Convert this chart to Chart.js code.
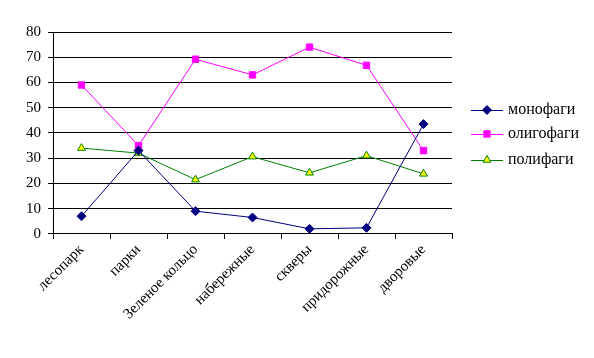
<!DOCTYPE html>
<html><head><meta charset="utf-8">
<script src="https://cdn.jsdelivr.net/npm/chart.js@4/dist/chart.umd.min.js"></script>
<style>html,body{margin:0;padding:0;background:#fff}#wrap{width:594px;height:358px}</style>
</head><body><div id="wrap"><canvas id="c" width="594" height="358"></canvas></div>
<script>
const categories = ["лесопарк","парки","Зеленое кольцо","набережные","скверы","придорожные","дворовые"];
const monofagi = [7, 33, 9, 6.5, 2, 2.4, 43.5];
const oligofagi = [59, 35, 69.2, 63, 74, 66.8, 33];
const polifagi = [34, 32, 21.5, 30.6, 24.2, 31, 23.8];
const yTicks = [0,10,20,30,40,50,60,70,80];
const seriesNames = ["монофаги","олигофаги","полифаги"];

const FONT = "'Liberation Serif', 'Times New Roman', serif";

const legendPlugin = {
  id: 'customLegend',
  afterDraw(chart) {
    const ctx = chart.ctx;
    const x0 = 471, x1 = 503, tx = 508;
    const ys = [110, 134, 160];
    chart.data.datasets.forEach((ds, i) => {
      const y = ys[i];
      ctx.save();
      ctx.strokeStyle = ds.borderColor;
      ctx.lineWidth = 1;
      ctx.beginPath(); ctx.moveTo(x0, y + 0.5); ctx.lineTo(x1, y + 0.5); ctx.stroke();
      ctx.fillStyle = ds.pointBackgroundColor;
      ctx.strokeStyle = ds.pointBorderColor;
      ctx.lineWidth = ds.pointBorderWidth;
      Chart.helpers.drawPoint(ctx, {pointStyle: ds.pointStyle, radius: ds.pointRadius, rotation: 0, borderWidth: ds.pointBorderWidth}, (x0 + x1) / 2, y);
      ctx.fillStyle = '#000';
      ctx.font = "16px " + FONT;
      ctx.textBaseline = 'middle';
      ctx.textAlign = 'left';
      ctx.fillText(ds.label, tx, y);
      ctx.restore();
    });
  }
};

new Chart(document.getElementById('c'), {
  type: 'line',
  data: {
    labels: categories,
    datasets: [
      {label: seriesNames[0], data: monofagi, borderColor: '#000080', backgroundColor: '#000080',
       pointStyle: 'rectRot', pointRadius: 4.5, pointBackgroundColor: '#000080', pointBorderColor: '#000080', pointBorderWidth: 1, borderWidth: 1, tension: 0},
      {label: seriesNames[1], data: oligofagi, borderColor: '#FF00FF', backgroundColor: '#FF00FF',
       pointStyle: 'rect', pointRadius: 4.5, pointBackgroundColor: '#FF00FF', pointBorderColor: '#FF00FF', pointBorderWidth: 1, borderWidth: 1, tension: 0},
      {label: seriesNames[2], data: polifagi, borderColor: '#008000', backgroundColor: '#FFFF00',
       pointStyle: 'triangle', pointRadius: 4.5, pointBackgroundColor: '#FFFF00', pointBorderColor: '#008000', pointBorderWidth: 1, borderWidth: 1, tension: 0}
    ]
  },
  options: {
    responsive: false,
    animation: false,
    devicePixelRatio: 1,
    layout: {padding: {left: 19, right: 142, top: 32, bottom: 33}},
    plugins: {legend: {display: false}, tooltip: {enabled: false}},
    scales: {
      x: {
        offset: true,
        grid: {display: true, offset: true, drawOnChartArea: false, drawTicks: true, tickLength: 5, color: '#000', lineWidth: 1},
        border: {display: true, color: '#000', width: 1},
        ticks: {color: '#000', font: {family: FONT, size: 15}, minRotation: 45, maxRotation: 45, autoSkip: false, padding: 2}
      },
      y: {
        min: 0, max: 80,
        afterBuildTicks(axis) { axis.ticks = yTicks.map(v => ({value: v})); },
        grid: {color: '#000', lineWidth: 1, drawTicks: true, tickLength: 5},
        border: {display: true, color: '#000', width: 1},
        ticks: {color: '#000', font: {family: FONT, size: 15}, padding: 7}
      }
    }
  },
  plugins: [legendPlugin]
});
</script>
</body></html>
